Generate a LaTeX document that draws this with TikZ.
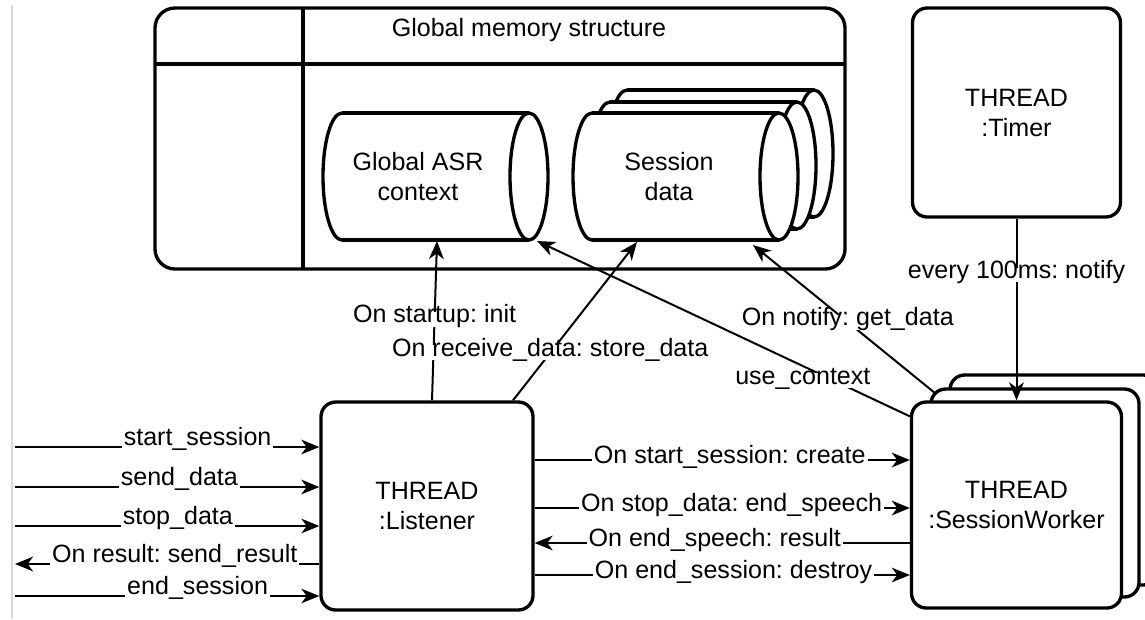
\documentclass[tikz,border=0pt]{standalone}
\usepackage{fontspec}
\setmainfont{Liberation Sans}
\usetikzlibrary{arrows.meta,calc}
\newcommand\cylshape[4]{%
  \filldraw[fill=white, line width=2.5pt] (#1+19,{(#3+#4)/2}) ellipse [x radius=19, y radius={(#4-#3)/2}];
  \fill[white] (#1+19,#3) rectangle (#2-19,#4);
  \draw[line width=2.5pt] (#1+19,#3) -- (#2-19,#3) (#1+19,#4) -- (#2-19,#4);
  \filldraw[fill=white, line width=2.5pt] (#2-19,{(#3+#4)/2}) ellipse [x radius=19, y radius={(#4-#3)/2}];
}
\begin{document}
\frenchspacing
\begin{tikzpicture}[x=0.75pt,y=-0.75pt,
  font=\fontsize{18.8}{22.5}\selectfont\frenchspacing,
  box/.style={draw, line width=2.5pt, rounded corners=11pt, fill=white, align=center, inner sep=0pt},
  conn/.style={line width=1.5pt, -{Stealth[length=13.5pt,width=11pt,inset=4pt]}},
  lbl/.style={fill=white, inner xsep=1.5pt, inner ysep=1pt, text height=0.72em, text depth=0.2em},
  lblb/.style={fill=white, inner xsep=1.5pt, inner ysep=1pt, anchor=base, yshift=1.5pt},
]
\useasboundingbox (0,0) rectangle (1145,619);
\fill[white] (0,0) rectangle (1145,619);
\draw[black!15, line width=0.8pt] (12,5) -- (12,619);

% global memory structure
\node[box, rounded corners=15pt, minimum width=517.5pt, minimum height=195.75pt] (gms) at (500,138.5) {};
\draw[line width=2.5pt] (303,8) -- (303,269);
\draw[line width=2.5pt] (155,64) -- (845,64);
\node (gmst) at (529,30) {Global memory structure};

% cylinders
\cylshape{323}{548}{113}{240}
\node[align=center] (asr) at (418,177) {Global ASR\\context};
\cylshape{608}{833}{90}{217}
\cylshape{591}{816}{102}{229}
\cylshape{573}{798}{113}{240}
\node[align=center] (sess) at (669,177) {Session\\data};

% timer
\node[box, minimum width=156pt, minimum height=156.75pt] (timer) at (1016.5,112.5) {THREAD\\:Timer};

% session workers
\node[box, minimum width=156pt, minimum height=157.5pt] (sw3) at (1054,480) {};
\node[box, minimum width=156pt, minimum height=156pt] (sw2) at (1035,493) {};
\node[box, minimum width=157.5pt, minimum height=154.5pt] (sw) at (1016.5,505) {THREAD\\:SessionWorker};

% listener
\node[box, minimum width=159pt, minimum height=156pt] (lis) at (427,506) {THREAD\\:Listener};

% connector end points
\coordinate (asrS) at (437,241);
\coordinate (asrSE) at (537,241);
\coordinate (sessS) at (637,242);
\coordinate (sessSE) at (753,245);
\coordinate (in1) at (15,447);
\coordinate (in2) at (15,487);
\coordinate (in3) at (15,526);
\coordinate (out1) at (15,564);
\coordinate (in4) at (15,596);
\coordinate (m1) at ($(lis.east)+(0,-46)$);
\coordinate (m2) at ($(lis.east)+(0,2)$);
\coordinate (m3) at ($(lis.east)+(0,37)$);
\coordinate (m4) at ($(lis.east)+(0,69)$);

% upward connectors
\draw[conn] ($(lis.north)+(5,0)$) -- node[lbl, pos=0.51] {On startup: init} (asrS);
\draw[conn] ($(lis.north)+(86,0)$) -- node[lbl, pos=0.30] {On receive\_data: store\_data} (sessS);
\draw[conn] ($(sw.north west)+(0,16)$) -- node[lbl, pos=0.287, yshift=-11.2pt] {use\_context} (asrSE);
\draw[conn] ($(sw2.north west)+(6,6)$) -- node[lbl, pos=0.48] {On notify: get\_data} (sessSE);
\draw[conn] (timer.south) -- node[lbl, pos=0.31] {every 100ms: notify} (sw.north);

% left connectors
\draw[conn] (in1) -- node[lblb, pos=0.60] {start\_session} (in1 -| lis.west);
\draw[conn] (in2) -- node[lblb, pos=0.54] {send\_data} (in2 -| lis.west);
\draw[conn] (in3) -- node[lblb, pos=0.535] {stop\_data} (in3 -| lis.west);
\draw[conn] (out1 -| lis.west) -- node[lblb, pos=0.475] {On result: send\_result} (out1);
\draw[conn] (in4) -- node[lblb, pos=0.60] {end\_session} (in4 -| lis.west);

% middle connectors
\draw[conn] (m1) -- node[lbl, pos=0.52] {On start\_session: create} (m1 -| sw.west);
\draw[conn] (m2) -- node[lbl, pos=0.525] {On stop\_data: end\_speech} (m2 -| sw.west);
\draw[conn] (m3 -| sw.west) -- node[lbl, pos=0.52] {On end\_speech: result} (m3);
\draw[conn] (m4) -- node[lbl, pos=0.53] {On end\_session: destroy} (m4 -| sw.west);
\end{tikzpicture}
\end{document}
